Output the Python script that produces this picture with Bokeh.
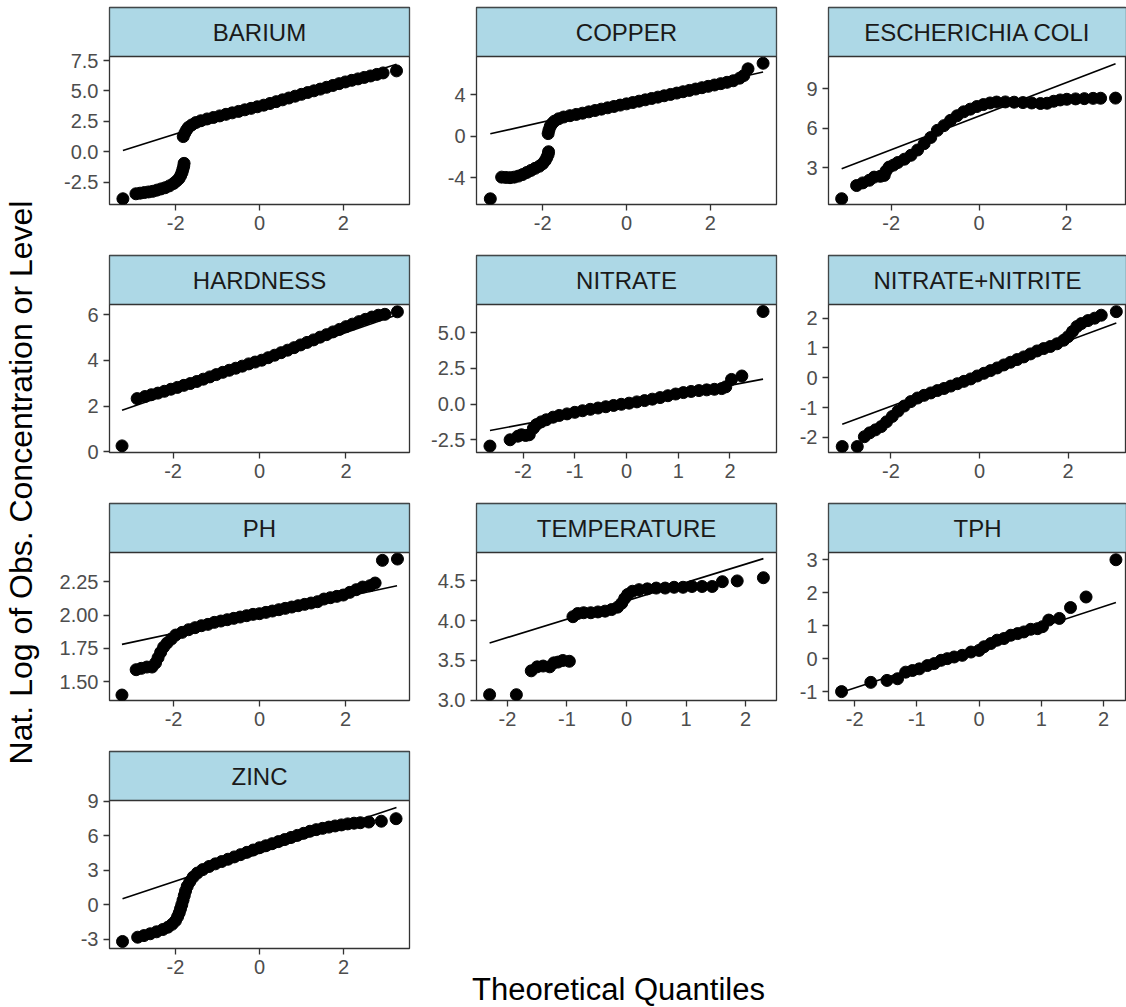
import math
from bokeh.plotting import figure
from bokeh.layouts import row, column
from bokeh.models import Range1d, FixedTicker, PrintfTickFormatter
from bokeh.core.properties import value
from bokeh.embed import file_html
from bokeh.resources import INLINE

FONT = "Liberation Sans"

# ---------------- data ----------------
panel_names = ["BARIUM", "COPPER", "ESCHERICHIA COLI", "HARDNESS", "NITRATE",
               "NITRATE+NITRITE", "PH", "TEMPERATURE", "TPH", "ZINC"]

barium_x = [-3.26, -2.95, -2.85, -2.75, -2.65, -2.55, -2.45, -2.35, -2.25, -2.15, -2.05, -1.98,
            -1.92, -1.88, -1.85, -1.83, -1.81, -1.80,
            -1.82, -1.78, -1.74, -1.70, -1.62, -1.52, -1.40, -1.25, -1.10, -0.95, -0.80, -0.65,
            -0.50, -0.35, -0.20, -0.05, 0.10, 0.25, 0.40, 0.55, 0.70, 0.85, 1.00, 1.15, 1.30,
            1.45, 1.60, 1.75, 1.90, 2.05, 2.20, 2.35, 2.50, 2.65, 2.80, 2.95, 3.27]
barium_y = [-3.86, -3.45, -3.40, -3.35, -3.30, -3.25, -3.15, -3.05, -2.95, -2.80, -2.60, -2.40,
            -2.20, -1.95, -1.70, -1.45, -1.20, -0.95,
            1.25, 1.55, 1.80, 2.00, 2.20, 2.40, 2.55, 2.70, 2.82, 2.95, 3.08, 3.20,
            3.32, 3.45, 3.57, 3.70, 3.83, 3.97, 4.12, 4.27, 4.42, 4.57, 4.72, 4.87, 5.01,
            5.15, 5.30, 5.45, 5.60, 5.74, 5.87, 5.99, 6.11, 6.23, 6.36, 6.48, 6.65]
barium_line_x = [-3.26, 3.27]
barium_line_y = [0.10, 7.20]

copper_x = [-3.25, -2.98, -2.88, -2.78, -2.68, -2.58, -2.48, -2.38, -2.28, -2.18, -2.08, -2.00,
            -1.94, -1.90, -1.87, -1.86,
            -1.87, -1.85, -1.82, -1.78, -1.72, -1.62, -1.50, -1.35, -1.20, -1.05, -0.90, -0.75,
            -0.60, -0.45, -0.30, -0.15, 0.00, 0.15, 0.30, 0.45, 0.60, 0.75, 0.90, 1.05, 1.20,
            1.35, 1.50, 1.65, 1.80, 1.95, 2.10, 2.25, 2.40, 2.55, 2.70, 2.80, 2.90, 3.26]
copper_y = [-6.04, -3.95, -3.98, -4.00, -3.95, -3.85, -3.70, -3.50, -3.30, -3.10, -2.90, -2.65,
            -2.35, -2.05, -1.75, -1.50,
            0.25, 0.60, 0.95, 1.20, 1.45, 1.68, 1.85, 1.98, 2.10, 2.22, 2.35, 2.48,
            2.61, 2.74, 2.87, 3.00, 3.12, 3.25, 3.38, 3.51, 3.64, 3.77, 3.90, 4.03, 4.16,
            4.29, 4.42, 4.55, 4.68, 4.81, 4.94, 5.07, 5.20, 5.35, 5.60, 5.85, 6.50, 7.04]
copper_line_x = [-3.25, 3.26]
copper_line_y = [0.23, 6.20]

ecoli_x = [-3.13, -2.79, -2.65, -2.50, -2.39, -2.25, -2.16, -2.12, -2.05, -1.95, -1.85, -1.70,
           -1.55, -1.40, -1.25, -1.10, -0.95, -0.80, -0.65, -0.50, -0.35, -0.20, -0.05, 0.10,
           0.25, 0.40, 0.60, 0.80, 1.00, 1.20, 1.40, 1.55, 1.70, 1.85, 2.00, 2.20, 2.40, 2.60,
           2.77, 3.11]
ecoli_y = [0.65, 1.65, 1.85, 2.05, 2.29, 2.35, 2.42, 2.75, 3.05, 3.20, 3.40, 3.65,
           3.95, 4.35, 4.83, 5.30, 5.84, 6.20, 6.60, 6.95, 7.25, 7.45, 7.65, 7.80,
           7.92, 7.99, 8.00, 7.98, 7.95, 7.92, 7.88, 7.90, 8.05, 8.15, 8.20, 8.23, 8.25, 8.27,
           8.28, 8.29]
ecoli_line_x = [-3.13, 3.11]
ecoli_line_y = [2.92, 10.90]

hardness_x = [-3.18, -2.83, -2.65, -2.50, -2.35, -2.20, -2.05, -1.90, -1.75, -1.60, -1.45, -1.30,
              -1.15, -1.00, -0.85, -0.70, -0.55, -0.40, -0.25, -0.10, 0.05, 0.20, 0.35, 0.50,
              0.65, 0.80, 0.95, 1.10, 1.25, 1.40, 1.55, 1.70, 1.85, 2.00, 2.15, 2.30, 2.45,
              2.60, 2.75, 2.90, 3.19]
hardness_y = [0.26, 2.33, 2.42, 2.50, 2.57, 2.65, 2.74, 2.82, 2.91, 2.99, 3.08, 3.18,
              3.28, 3.38, 3.48, 3.57, 3.66, 3.75, 3.85, 3.93, 4.01, 4.12, 4.23, 4.34,
              4.45, 4.56, 4.68, 4.79, 4.90, 5.02, 5.13, 5.25, 5.36, 5.48, 5.59, 5.70, 5.80,
              5.90, 5.98, 6.02, 6.13]
hardness_line_x = [-3.18, 3.19]
hardness_line_y = [1.82, 6.00]

nitrate_x = [-2.64, -2.25, -2.10, -2.03, -1.95, -1.88, -1.80, -1.74, -1.65, -1.55, -1.42, -1.30,
             -1.15, -1.00, -0.85, -0.70, -0.55, -0.40, -0.25, -0.10, 0.05, 0.20, 0.35, 0.50,
             0.65, 0.80, 0.95, 1.10, 1.25, 1.40, 1.55, 1.70, 1.84, 1.92, 2.03, 2.23, 2.64]
nitrate_y = [-2.94, -2.50, -2.25, -2.15, -2.20, -2.15, -1.70, -1.44, -1.25, -1.10, -0.92, -0.80,
             -0.69, -0.58, -0.47, -0.37, -0.28, -0.19, -0.10, -0.02, 0.06, 0.15, 0.24, 0.34,
             0.45, 0.58, 0.70, 0.80, 0.88, 0.94, 0.99, 1.03, 1.08, 1.20, 1.72, 1.96, 6.47]
nitrate_line_x = [-2.64, 2.64]
nitrate_line_y = [-1.85, 1.74]

nn_x = [-3.10, -2.76, -2.60, -2.48, -2.35, -2.22, -2.10, -1.97, -1.84, -1.70, -1.55, -1.40,
        -1.25, -1.10, -0.95, -0.80, -0.65, -0.50, -0.35, -0.20, -0.05, 0.10, 0.25, 0.40,
        0.55, 0.70, 0.85, 1.00, 1.15, 1.30, 1.45, 1.60, 1.75, 1.90, 2.00, 2.10, 2.20, 2.30,
        2.45, 2.60, 2.75, 3.09]
nn_y = [-2.31, -2.31, -1.98, -1.85, -1.75, -1.64, -1.48, -1.30, -1.12, -0.95, -0.80, -0.68,
        -0.59, -0.51, -0.43, -0.36, -0.28, -0.20, -0.12, -0.04, 0.06, 0.15, 0.24, 0.33,
        0.43, 0.52, 0.61, 0.70, 0.80, 0.90, 0.98, 1.05, 1.14, 1.26, 1.38, 1.55, 1.72, 1.82,
        1.92, 2.00, 2.10, 2.22]
nn_line_x = [-3.10, 3.09]
nn_line_y = [-1.56, 1.84]

ph_x = [-3.20, -2.87, -2.75, -2.62, -2.50, -2.42, -2.36, -2.30, -2.23, -2.15, -2.05, -1.95,
        -1.80, -1.65, -1.50, -1.35, -1.20, -1.05, -0.90, -0.75, -0.60, -0.45, -0.30, -0.15,
        0.00, 0.15, 0.30, 0.45, 0.60, 0.75, 0.90, 1.05, 1.20, 1.35, 1.50, 1.65, 1.80, 1.95,
        2.10, 2.25, 2.40, 2.57, 2.69, 2.86, 3.21]
ph_y = [1.400, 1.590, 1.600, 1.610, 1.610, 1.640, 1.680, 1.720, 1.760, 1.790, 1.820, 1.850,
        1.870, 1.890, 1.905, 1.920, 1.930, 1.945, 1.955, 1.965, 1.975, 1.985, 1.995, 2.005,
        2.010, 2.020, 2.030, 2.040, 2.050, 2.060, 2.070, 2.080, 2.090, 2.100, 2.120, 2.130,
        2.140, 2.150, 2.170, 2.190, 2.210, 2.220, 2.240, 2.410, 2.420]
ph_line_x = [-3.20, 3.20]
ph_line_y = [1.78, 2.22]

temp_x = [-2.30, -1.85, -1.60, -1.50, -1.40, -1.29, -1.22, -1.15, -1.07, -0.96,
          -0.90, -0.82, -0.72, -0.60, -0.48, -0.36, -0.25, -0.15, -0.08, -0.03, 0.02, 0.10,
          0.21, 0.35, 0.50, 0.65, 0.80, 0.95, 1.10, 1.27, 1.44, 1.61, 1.86, 2.30]
temp_y = [3.07, 3.07, 3.37, 3.42, 3.43, 3.42, 3.47, 3.48, 3.50, 3.49,
          4.05, 4.09, 4.10, 4.10, 4.11, 4.12, 4.14, 4.17, 4.22, 4.28, 4.33, 4.37,
          4.39, 4.40, 4.41, 4.41, 4.42, 4.42, 4.43, 4.43, 4.43, 4.49, 4.50, 4.54]
temp_line_x = [-2.30, 2.30]
temp_line_y = [3.72, 4.78]

tph_x = [-2.21, -1.74, -1.48, -1.31, -1.18, -1.07, -0.96, -0.83, -0.72, -0.61, -0.51, -0.40,
         -0.27, -0.13, 0.00, 0.08, 0.19, 0.29, 0.40, 0.51, 0.62, 0.72, 0.83, 0.94, 1.02,
         1.12, 1.29, 1.47, 1.72, 2.20]
tph_y = [-1.00, -0.72, -0.66, -0.61, -0.41, -0.36, -0.31, -0.21, -0.15, -0.05, 0.00, 0.05,
         0.10, 0.20, 0.25, 0.36, 0.46, 0.56, 0.61, 0.71, 0.76, 0.81, 0.89, 0.91, 0.97,
         1.17, 1.22, 1.55, 1.87, 3.00]
tph_line_x = [-2.21, 2.20]
tph_line_y = [-1.02, 1.70]

zinc_x = [-3.26, -2.90, -2.75, -2.60, -2.45, -2.30, -2.18, -2.08, -2.00, -1.95, -1.91, -1.88,
          -1.85, -1.82, -1.79, -1.76, -1.72, -1.66, -1.58, -1.48, -1.35, -1.20, -1.05, -0.90,
          -0.75, -0.60, -0.45, -0.30, -0.15, 0.00, 0.15, 0.30, 0.45, 0.60, 0.75, 0.90, 1.05,
          1.20, 1.35, 1.50, 1.65, 1.80, 1.95, 2.10, 2.25, 2.40, 2.60, 2.90, 3.25]
zinc_y = [-3.19, -2.82, -2.68, -2.52, -2.35, -2.15, -1.95, -1.70, -1.40, -1.05, -0.70, -0.35,
          0.00, 0.40, 0.80, 1.20, 1.60, 2.00, 2.40, 2.75, 3.05, 3.32, 3.55, 3.75,
          3.95, 4.15, 4.35, 4.55, 4.75, 4.95, 5.12, 5.30, 5.48, 5.66, 5.84, 6.02, 6.20,
          6.38, 6.52, 6.63, 6.74, 6.84, 6.93, 7.02, 7.08, 7.12, 7.18, 7.25, 7.47]
zinc_line_x = [-3.26, 3.26]
zinc_line_y = [0.52, 8.44]

# axis ranges and ticks per panel
x_ranges = [(-3.58, 3.58), (-3.58, 3.58), (-3.43, 3.36), (-3.47, 3.47), (-2.90, 2.90),
            (-3.41, 3.32), (-3.49, 3.49), (-2.52, 2.52), (-2.42, 2.37), (-3.57, 3.57)]
y_ranges = [(-4.33, 7.83), (-6.59, 7.69), (0.21, 11.45), (-0.03, 6.45), (-3.39, 6.96),
            (-2.51, 2.46), (1.359, 2.469), (2.997, 4.857), (-1.27, 3.22), (-3.80, 9.05)]
x_ticks = [[-2, 0, 2], [-2, 0, 2], [-2, 0, 2], [-2, 0, 2], [-2, -1, 0, 1, 2],
           [-2, 0, 2], [-2, 0, 2], [-2, -1, 0, 1, 2], [-2, -1, 0, 1, 2], [-2, 0, 2]]
y_ticks = [[-2.5, 0, 2.5, 5, 7.5], [-4, 0, 4], [3, 6, 9], [0, 2, 4, 6], [-2.5, 0, 2.5, 5],
           [-2, -1, 0, 1, 2], [1.5, 1.75, 2.0, 2.25], [3.0, 3.5, 4.0, 4.5], [-1, 0, 1, 2, 3],
           [-3, 0, 3, 6, 9]]
y_formats = ["%.1f", "%d", "%d", "%d", "%.1f", "%d", "%.2f", "%.1f", "%d", "%d"]

points = [(barium_x, barium_y), (copper_x, copper_y), (ecoli_x, ecoli_y),
          (hardness_x, hardness_y), (nitrate_x, nitrate_y), (nn_x, nn_y),
          (ph_x, ph_y), (temp_x, temp_y), (tph_x, tph_y), (zinc_x, zinc_y)]
lines = [(barium_line_x, barium_line_y), (copper_line_x, copper_line_y),
         (ecoli_line_x, ecoli_line_y), (hardness_line_x, hardness_line_y),
         (nitrate_line_x, nitrate_line_y), (nn_line_x, nn_line_y), (ph_line_x, ph_line_y),
         (temp_line_x, temp_line_y), (tph_line_x, tph_line_y), (zinc_line_x, zinc_line_y)]

# ---------------- layout ----------------
COL_LEFT = [69, 57, 42]
COL_RIGHT = [10, 10, 0]
COL_FW = [300, 300, 298]
TOP_PAD = 7
STRIP_H = 49
FRAME_H = 148
ROW_H = 248
BORDER = "#333333"
STRIP_FILL = "#ADD8E6"


def panel_fig(i, c, bottom):
    """One facet: the frame holds the data area and, above it, the facet strip."""
    L, R, FW = COL_LEFT[c], COL_RIGHT[c], COL_FW[c]
    x0, x1 = x_ranges[i]
    y0, y1 = y_ranges[i]
    per_px = (y1 - y0) / FRAME_H
    y_top = y1 + STRIP_H * per_px
    p = figure(width=L + FW + R, height=TOP_PAD + STRIP_H + FRAME_H + bottom,
               frame_width=FW, frame_height=STRIP_H + FRAME_H,
               min_border_left=L, min_border_right=R,
               min_border_top=TOP_PAD, min_border_bottom=bottom,
               x_range=Range1d(x0, x1), y_range=Range1d(y0, y_top),
               toolbar_location=None, output_backend="svg", title=None)
    p.background_fill_color = "white"
    p.border_fill_color = "white"
    p.outline_line_color = BORDER
    p.outline_line_width = 1.3
    p.xgrid.visible = False
    p.ygrid.visible = False
    p.xaxis.ticker = FixedTicker(ticks=x_ticks[i])
    p.yaxis.ticker = FixedTicker(ticks=y_ticks[i])
    p.xaxis.formatter = PrintfTickFormatter(format="%d")
    p.yaxis.formatter = PrintfTickFormatter(format=y_formats[i])
    for ax in (p.xaxis[0], p.yaxis[0]):
        ax.axis_line_color = None
        ax.major_tick_line_color = BORDER
        ax.major_tick_line_width = 1.3
        ax.major_tick_out = 6
        ax.major_tick_in = 0
        ax.minor_tick_line_color = None
        ax.major_label_text_font = FONT
        ax.major_label_text_font_size = "20px"
        ax.major_label_text_color = "#4D4D4D"
        ax.major_label_standoff = 5
    lx, ly = lines[i]
    p.line(lx, ly, line_color="black", line_width=1.6)
    px, py = points[i]
    p.scatter(px, py, size=12, fill_color="black", line_color="black")
    # facet strip (drawn last, on top)
    p.quad(left=[x0], right=[x1], bottom=[y1], top=[y_top], fill_color=STRIP_FILL,
           line_color=BORDER, line_width=1.3)
    p.text(x=[(x0 + x1) / 2], y=[(y1 + y_top) / 2], text=[panel_names[i]],
           text_align="center", text_baseline="middle", text_font=value(FONT),
           text_font_size="24px", text_color="#1A1A1A")
    return p


rows = []
for r in range(3):
    rows.append(row(*[panel_fig(r * 3 + c, c, ROW_H - TOP_PAD - STRIP_H - FRAME_H)
                      for c in range(3)]))

last_h = 1007 - 3 * ROW_H
zinc = panel_fig(9, 0, last_h - TOP_PAD - STRIP_H - FRAME_H)

# x-axis title, in the free space to the right of the last panel
col1_w = COL_LEFT[0] + COL_FW[0] + COL_RIGHT[0]
xt_w = 1086 - col1_w
xt = figure(width=xt_w, height=last_h, frame_width=xt_w, frame_height=last_h,
            min_border_left=0, min_border_right=0, min_border_top=0, min_border_bottom=0,
            x_range=Range1d(0, xt_w), y_range=Range1d(0, last_h),
            x_axis_type=None, y_axis_type=None,
            toolbar_location=None, output_backend="svg", title=None)
xt.outline_line_color = None
xt.text(x=[618 - 40 - col1_w], y=[25], text=["Theoretical Quantiles"],
        text_align="center", text_baseline="middle", text_font=value(FONT),
        text_font_size="31px", text_color="black")
rows.append(row(zinc, xt))

# y-axis title
yt = figure(width=40, height=1007, frame_width=40, frame_height=1007,
            min_border_left=0, min_border_right=0, min_border_top=0, min_border_bottom=0,
            x_range=Range1d(0, 40), y_range=Range1d(0, 1007), x_axis_type=None, y_axis_type=None,
            toolbar_location=None, output_backend="svg", title=None)
yt.outline_line_color = None
yt.text(x=[20], y=[1007 - 482], text=["Nat. Log of Obs. Concentration or Level"],
        angle=math.pi / 2, text_align="center", text_baseline="middle",
        text_font=value(FONT), text_font_size="32px", text_color="black")

layout = row(yt, column(*rows))

open("out.html", "w").write(file_html(layout, INLINE))
